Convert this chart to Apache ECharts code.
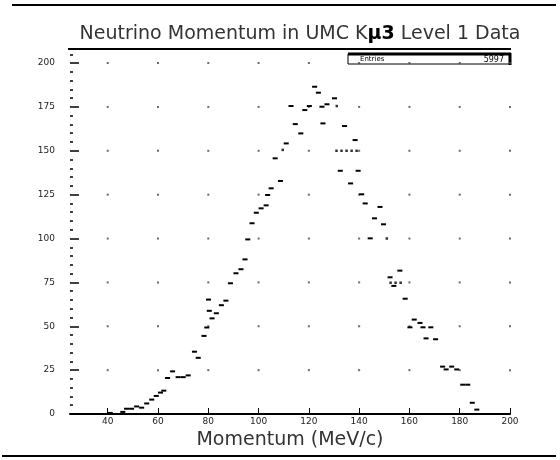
<!DOCTYPE html>
<html>
<head>
<meta charset="utf-8">
<script src="https://cdn.jsdelivr.net/npm/echarts@6/dist/echarts.min.js"></script>
<style>
html,body{margin:0;padding:0;background:#fff;}
#chart{width:560px;height:460px;}
</style>
</head>
<body>
<div id="chart"></div>
<script>
// ---- data ----
const titleText = 'Neutrino Momentum in UMC K{mu|μ3} Level 1 Data';
const xAxisName = 'Momentum (MeV/c)';
const entriesLabel = 'Entries';
const entriesValue = 5997;

// centre of each histogram dash (MeV/c) and its height (counts)
const momentum = [41, 46, 47.5, 49.5, 51.5, 53.5, 55.5, 57.5, 59.3, 61, 62.3, 63.8, 65.8, 68, 70, 72,
  74.5, 76, 78.3, 79.4, 80.1, 80.4, 81.5, 83.2, 85.2, 87, 88.8, 91, 93, 94.6, 95.7, 97.4, 99.1,
  101, 103, 103.6, 105, 106.6, 108.7, 111, 112.9, 114.6, 116.8, 118.4, 120.2, 122.3, 123.8,
  125.6, 125.2, 127.2, 130.2, 132.5, 134.2, 136.6, 138.4, 139.6, 141, 142.4, 144.4, 146.1,
  148.3, 149.7, 152.3, 153.8, 156.2, 158.3, 160.2, 161.9, 164.2, 165.4, 166.6, 168.5, 170.4,
  173.2, 174.6, 176.8, 178.8, 181.2, 183.2, 185, 186.8];
const counts = [0.6, 1.2, 3, 3, 4.3, 3.6, 6, 8.2, 10.3, 12.2, 13.3, 20.5, 24.3, 21, 21, 22,
  35.5, 32, 44.5, 49.3, 65.2, 58.8, 54.5, 57.4, 62, 64.6, 74.5, 80.2, 82.5, 88.1, 99.5, 108.7, 114.7,
  117.2, 118.9, 124.8, 128.6, 145.7, 132.8, 154.2, 175.5, 165.2, 159.9, 173.2, 175.5, 186.5, 183.1,
  165.6, 175.1, 176.5, 179.9, 138.6, 164.1, 131.4, 156.1, 138.6, 125.2, 120, 100.1, 111.5,
  118, 108.1, 77.9, 73, 81.7, 65.7, 49.4, 53.8, 51.9, 49.4, 43.1, 49.4, 42.6,
  27, 25.4, 27, 25.4, 16.7, 16.7, 6.4, 2.5];

// point-like marks
const dotMomentum = [109.6, 131.1, 131, 133, 135, 137, 139, 151, 152.5, 154.5, 156.5];
const dotCounts = [150.5, 175.5, 150, 150, 150, 150, 150, 100, 74.8, 74.8, 74.8];

const xTicks = [40, 60, 80, 100, 120, 140, 160, 180, 200];
const yTicks = [0, 25, 50, 75, 100, 125, 150, 175, 200];
const xGridTicks = [40, 60, 80, 100, 120, 140, 160, 180, 200];
const yGridTicks = [25, 50, 75, 100, 125, 150, 175, 200];

// ---- build ----
const dashData = momentum.map((m, i) => [m, counts[i]]);
const dotData = dotMomentum.map((m, i) => [m, dotCounts[i]]);
const gridDots = [];
xGridTicks.forEach(x => yGridTicks.forEach(y => gridDots.push([x, y])));
const halfBin = 1;

const chart = echarts.init(document.getElementById('chart'), null, {renderer: 'canvas'});
const FONT = 'DejaVu Sans';
chart.setOption({
  animation: false,
  backgroundColor: '#fff',
  title: {
    text: titleText,
    left: 295,
    top: 20,
    textAlign: 'center',
    textStyle: {
      fontFamily: FONT, fontSize: 19, fontWeight: 'normal', color: '#333',
      rich: { mu: { fontFamily: FONT, fontSize: 19, fontWeight: 'bold', color: '#000' } }
    }
  },
  grid: { left: 70, right: 50, top: 49, bottom: 46 },
  xAxis: [
    {
      type: 'value', min: 25, max: 200, position: 'bottom',
      name: xAxisName, nameLocation: 'middle', nameGap: 14,
      nameTextStyle: { fontFamily: FONT, fontSize: 19, color: '#333' },
      axisLine: { show: true, onZero: false, lineStyle: { color: '#000', width: 2 } },
      axisTick: { show: true, inside: true, length: 6, customValues: xTicks, lineStyle: { color: '#000', width: 1 } },
      axisLabel: { customValues: xTicks, fontFamily: FONT, fontSize: 9, color: '#222', margin: 3 },
      splitLine: { show: false }
    }
  ],
  yAxis: [
    {
      type: 'value', min: 0, max: 208, position: 'left',
      axisLine: { show: false, onZero: false },
      axisTick: { show: true, inside: true, length: 9, customValues: yTicks, lineStyle: { color: '#000', width: 1.5 } },
      axisLabel: { customValues: yTicks, fontFamily: FONT, fontSize: 9, color: '#222', margin: 15 },
      splitLine: { show: false }
    },
    {
      type: 'value', min: 0, max: 208, interval: 5, position: 'left',
      axisLine: { show: false, onZero: false },
      axisTick: { show: true, inside: true, length: 3, lineStyle: { color: '#000', width: 1.5 } },
      axisLabel: { show: false }, splitLine: { show: false }
    }
  ],
  series: [
    {
      name: 'grid', type: 'scatter', xAxisIndex: 0, yAxisIndex: 0, silent: true,
      symbol: 'rect', symbolSize: 2, itemStyle: { color: '#444' }, data: gridDots, z: 1
    },
    {
      name: 'histogram', type: 'custom', xAxisIndex: 0, yAxisIndex: 0, data: dashData, z: 3,
      renderItem: function (params, api) {
        const c = api.value(0), v = api.value(1);
        const p1 = api.coord([c - halfBin, v]);
        const p2 = api.coord([c + halfBin, v]);
        return { type: 'line', shape: { x1: p1[0], y1: p1[1], x2: p2[0], y2: p2[1] },
                 style: { stroke: '#000', lineWidth: 2 } };
      }
    },
    {
      name: 'points', type: 'scatter', xAxisIndex: 0, yAxisIndex: 0, data: dotData,
      symbol: 'rect', symbolSize: 2.5, itemStyle: { color: '#000' }, z: 3
    }
  ],
  graphic: [
    { type: 'line', shape: { x1: 12, y1: 5, x2: 556, y2: 5 }, style: { stroke: '#000', lineWidth: 2 } },
    { type: 'line', shape: { x1: 2, y1: 456, x2: 556, y2: 456 }, style: { stroke: '#000', lineWidth: 2 } },
    { type: 'line', shape: { x1: 68, y1: 49, x2: 511, y2: 49 }, style: { stroke: '#000', lineWidth: 2 } },
    { type: 'rect', shape: { x: 348, y: 54, width: 162, height: 10 }, style: { fill: '#fff', stroke: '#000', lineWidth: 1 } },
    { type: 'line', shape: { x1: 348, y1: 54, x2: 511, y2: 54 }, style: { stroke: '#000', lineWidth: 3 } },
    { type: 'line', shape: { x1: 510, y1: 53, x2: 510, y2: 65 }, style: { stroke: '#000', lineWidth: 3 } },
    { type: 'text', x: 360, y: 59.5, style: { text: entriesLabel, fontFamily: FONT, fontSize: 7, fill: '#000', verticalAlign: 'middle' } },
    { type: 'text', x: 504, y: 59.5, style: { text: String(entriesValue), fontFamily: FONT, fontSize: 8, fill: '#000', align: 'right', verticalAlign: 'middle' } }
  ]
});
</script>
</body>
</html>
